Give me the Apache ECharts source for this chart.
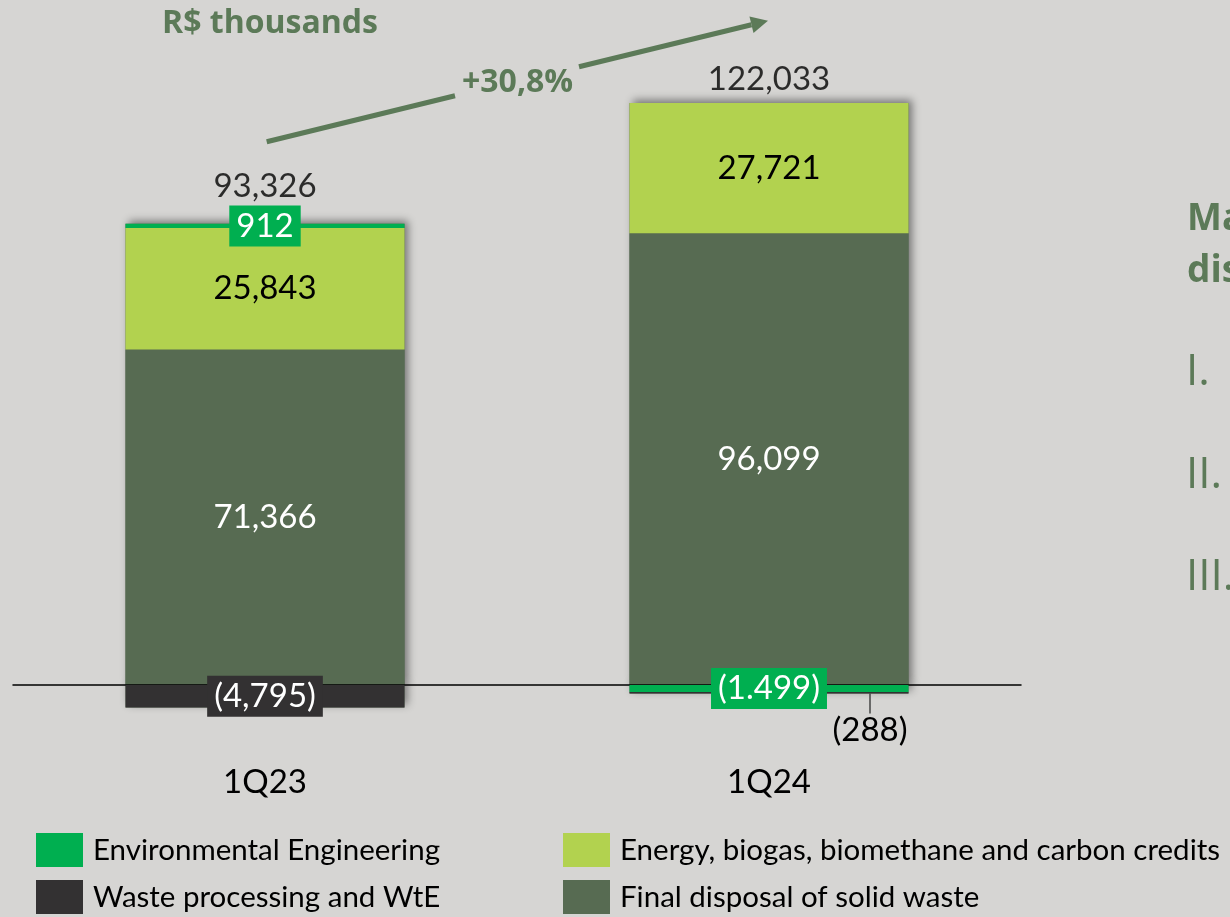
<!DOCTYPE html>
<html>
<head>
<meta charset="utf-8">
<script src="https://cdn.jsdelivr.net/npm/echarts@6/dist/echarts.min.js"></script>
<style>
html,body{margin:0;padding:0;background:#d6d5d3;}
#c{width:1230px;height:917px;}
</style>
</head>
<body>
<div id="c"></div>
<script>
// ---- data ----
const categories = ['1Q23', '1Q24'];
const finalDisposal = [71366, 96099];
const energy = [25843, 27721];
const envEng = [912, -1499];
const wasteWtE = [-4795, -288];
const envEngLabelText = ['912', '(1.499)'];   // as printed in the source
const growthText = '+30,8%';
const unitText = 'R$ thousands';

const names = {
  env: 'Environmental Engineering',
  waste: 'Waste processing and WtE',
  energy: 'Energy, biogas, biomethane and carbon credits',
  disposal: 'Final disposal of solid waste'
};

function fmt(v) {
  const s = String(Math.abs(v)).replace(/\B(?=(\d{3})+(?!\d))/g, ',');
  return v < 0 ? '(' + s + ')' : s;
}

const all = [finalDisposal, energy, envEng, wasteWtE];
const totals = categories.map((_, i) => all.reduce((a, s) => a + s[i], 0));
const posTop = categories.map((_, i) => all.reduce((a, s) => a + Math.max(0, s[i]), 0));
const negBottom = categories.map((_, i) => all.reduce((a, s) => a + Math.min(0, s[i]), 0));

const FONT = 'Lato';
const GREEN_TXT = '#5c7a58';
const C_ENV = '#00af50', C_WASTE = '#333132', C_ENERGY = '#b2d24f', C_DISP = '#576b52';
const BW = 279;

const shadowStyle = {
  color: C_DISP,
  shadowBlur: 8,
  shadowColor: 'rgba(0,0,0,0.45)',
  shadowOffsetX: 3,
  shadowOffsetY: -3
};

const numLabel = { fontFamily: FONT, fontSize: 33, lineHeight: 34 };

function legendAt(name, left, top) {
  return {
    data: [name], left: left, top: top, padding: 0,
    itemWidth: 47, itemHeight: 34, icon: 'rect', selectedMode: false,
    textStyle: { fontFamily: FONT, fontSize: 29.5, color: '#000', padding: [3, 0, 0, 5] }
  };
}

const chart = echarts.init(document.getElementById('c'), null, { renderer: 'canvas' });

// arrow geometry (annotation)
const tip = [768, 20.7];
const u = [0.972, -0.2365], n = [0.2365, 0.972];
const base = [tip[0] - 17 * u[0], tip[1] - 17 * u[1]];

chart.setOption({
  backgroundColor: '#d6d5d3',
  animation: false,
  title: {
    text: unitText,
    left: 157, top: 3,
    textStyle: { fontFamily: 'Open Sans', fontWeight: 'bold', fontSize: 32, color: GREEN_TXT }
  },
  grid: { left: 13, right: 209, top: 27, bottom: 138, containLabel: false },
  xAxis: {
    type: 'category',
    data: categories,
    z: 3,
    axisLine: { onZero: true, lineStyle: { color: '#000', width: 1.5 } },
    axisTick: { show: false },
    axisLabel: { margin: -13, fontFamily: FONT, fontSize: 33, color: '#000' }
  },
  yAxis: { type: 'value', min: -20000, max: 140000, show: false },
  legend: [
    legendAt(names.env, 36, 833),
    legendAt(names.waste, 36, 880),
    legendAt(names.energy, 563, 833),
    legendAt(names.disposal, 563, 880)
  ],
  series: [
    { name: 'shadowPos', type: 'bar', stack: 'shadow', data: posTop, barWidth: BW, barGap: '-100%',
      itemStyle: shadowStyle, silent: true, z: 1, emphasis: { disabled: true } },
    { name: 'shadowNeg', type: 'bar', stack: 'shadow', data: negBottom, barWidth: BW, barGap: '-100%',
      itemStyle: shadowStyle, silent: true, z: 1, emphasis: { disabled: true } },
    { name: names.disposal, type: 'bar', stack: 'total', data: finalDisposal, barWidth: BW, barGap: '-100%',
      itemStyle: { color: C_DISP }, z: 2, emphasis: { disabled: true },
      label: Object.assign({ show: true, position: 'inside', color: '#fff', formatter: p => fmt(p.value) }, numLabel) },
    { name: names.energy, type: 'bar', stack: 'total', data: energy, barWidth: BW, barGap: '-100%',
      itemStyle: { color: C_ENERGY }, z: 2, emphasis: { disabled: true },
      label: Object.assign({ show: true, position: 'inside', color: '#000', formatter: p => fmt(p.value) }, numLabel) },
    { name: names.env, type: 'bar', stack: 'total', data: envEng, barWidth: BW, barGap: '-100%',
      itemStyle: { color: C_ENV }, z: 4, emphasis: { disabled: true },
      label: Object.assign({ show: true, position: 'inside', color: '#fff', backgroundColor: C_ENV,
        padding: [4, 7, 3, 7], formatter: p => envEngLabelText[p.dataIndex] }, numLabel) },
    { name: names.waste, type: 'bar', stack: 'total', barWidth: BW, barGap: '-100%',
      itemStyle: { color: C_WASTE }, z: 4, emphasis: { disabled: true },
      data: wasteWtE.map((v, i) => i === 0
        ? { value: v, label: Object.assign({ show: true, position: 'inside', color: '#fff', backgroundColor: C_WASTE,
            padding: [4, 7, 3, 7], formatter: p => fmt(p.value) }, numLabel) }
        : { value: v, label: Object.assign({ show: true, position: 'bottom', distance: 5, color: '#000',
            formatter: p => fmt(p.value) }, numLabel),
            labelLine: { show: true, lineStyle: { color: '#444', width: 1.5 } } }),
      labelLayout: p => (p.dataIndex === 1 ? { dx: 101, dy: 15 } : {})
    },
    { name: 'totals', type: 'scatter', data: posTop.map((v, i) => ({ value: v, label: { distance: [20, 6][i] } })),
      symbolSize: 1, itemStyle: { color: 'rgba(0,0,0,0)' }, z: 5, silent: true, emphasis: { disabled: true },
      label: Object.assign({ show: true, position: 'top', color: '#000', formatter: p => fmt(totals[p.dataIndex]) }, numLabel) }
  ],
  graphic: [
    { type: 'line', shape: { x1: 266.7, y1: 141.7, x2: 455, y2: 95.7 }, style: { stroke: GREEN_TXT, lineWidth: 5 }, silent: true },
    { type: 'line', shape: { x1: 579, y1: 66.7, x2: base[0], y2: base[1] }, style: { stroke: GREEN_TXT, lineWidth: 5 }, silent: true },
    { type: 'polygon', shape: { points: [tip, [base[0] + 8.5 * n[0], base[1] + 8.5 * n[1]], [base[0] - 8.5 * n[0], base[1] - 8.5 * n[1]]] },
      style: { fill: GREEN_TXT }, silent: true },
    { type: 'text', left: 462, top: 67, silent: true,
      style: { text: growthText, fontFamily: 'Open Sans', fontWeight: 'bold', fontSize: 32, fill: GREEN_TXT } },
    { type: 'text', left: 1187, top: 193, silent: true,
      style: { text: 'Ma\ndis', fontFamily: 'Open Sans', fontWeight: 'bold', fontSize: 37, lineHeight: 52, fill: GREEN_TXT } },
    { type: 'text', left: 1186, top: 350, silent: true,
      style: { text: 'I.', fontFamily: 'Open Sans', fontSize: 44, fill: GREEN_TXT } },
    { type: 'text', left: 1186, top: 453, silent: true,
      style: { text: 'II.', fontFamily: 'Open Sans', fontSize: 44, fill: GREEN_TXT } },
    { type: 'text', left: 1186, top: 555, silent: true,
      style: { text: 'III.', fontFamily: 'Open Sans', fontSize: 44, fill: GREEN_TXT } }
  ]
});
</script>
</body>
</html>
